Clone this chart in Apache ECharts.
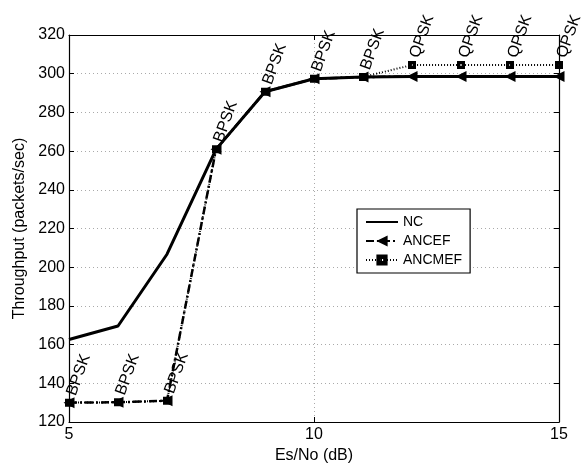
<!DOCTYPE html>
<html><head><meta charset="utf-8">
<script src="https://cdn.jsdelivr.net/npm/echarts@6/dist/echarts.min.js"></script>
<style>html,body{margin:0;padding:0;background:#fff}#c{width:585px;height:469px}</style>
</head><body><div id="c"></div>
<script>
const esno = [5, 6, 7, 8, 9, 10, 11, 12, 13, 14, 15];
const nc = [162.6, 169.6, 206.7, 260.9, 290.7, 297.4, 298.3, 298.5, 298.5, 298.5, 298.5];
const ancef = [130.0, 130.2, 131.0, 260.9, 290.7, 297.4, 298.3, 298.5, 298.5, 298.5, 298.5];
const ancmef = [130.0, 130.2, 131.0, 260.9, 290.7, 297.4, 298.3, 304.5, 304.5, 304.5, 304.5];
const modulation = ['BPSK','BPSK','BPSK','BPSK','BPSK','BPSK','BPSK','QPSK','QPSK','QPSK','QPSK'];
const yTicks = [120, 320, 20];

const font = 'Liberation Sans, Arial, sans-serif';
const pair = a => esno.map((x, i) => [x, a[i]]);
const squareDot = 'path://M0,0H10V10H0Z M4,4V6H6V4Z';
const chart = echarts.init(document.getElementById('c'));
chart.setOption({
  animation: false,
  backgroundColor: '#fff',
  grid: { left: 69, right: 26, top: 35, bottom: 47 },
  legend: {
    orient: 'vertical', left: 357, top: 209,
    backgroundColor: '#fff', borderColor: '#000', borderWidth: 1.2,
    padding: [6, 8, 6, 8], itemGap: 5, itemWidth: 32, itemHeight: 14,
    textStyle: { fontFamily: font, fontSize: 14, color: '#000' },
    data: [{ name: 'NC', itemStyle: { opacity: 0 } }, { name: 'ANCEF' }, { name: 'ANCMEF' }]
  },
  xAxis: [{
    type: 'value', min: 5, max: 15, interval: 5,
    name: 'Es/No (dB)', nameLocation: 'middle', nameGap: 23,
    nameTextStyle: { fontFamily: font, fontSize: 16, color: '#000' },
    axisLine: { lineStyle: { color: '#000', width: 1.2 } },
    axisTick: { inside: true, length: 5, lineStyle: { color: '#000' } },
    axisLabel: { fontFamily: font, fontSize: 16, color: '#000', margin: 5 },
    splitLine: { show: true, lineStyle: { color: '#aaa', type: [1, 3], width: 1 } }
  }, {
    type: 'value', min: 5, max: 15, interval: 5, position: 'top',
    axisLine: { show: true, lineStyle: { color: '#000', width: 1.2 } },
    axisTick: { show: true, inside: true, length: 5, lineStyle: { color: '#000' } },
    axisLabel: { show: false }, splitLine: { show: false }
  }],
  yAxis: [{
    type: 'value', min: yTicks[0], max: yTicks[1], interval: yTicks[2],
    name: 'Throughput (packets/sec)', nameLocation: 'middle', nameGap: 34,
    nameTextStyle: { fontFamily: font, fontSize: 16, color: '#000' },
    axisLine: { show: true, lineStyle: { color: '#000', width: 1.2 } },
    axisTick: { show: true, inside: true, length: 5, lineStyle: { color: '#000' } },
    axisLabel: { fontFamily: font, fontSize: 16, color: '#000', margin: 4 },
    splitLine: { show: true, lineStyle: { color: '#aaa', type: [1, 3], width: 1 } }
  }, {
    type: 'value', min: yTicks[0], max: yTicks[1], interval: yTicks[2], position: 'right',
    axisLine: { show: true, lineStyle: { color: '#000', width: 1.2 } },
    axisTick: { show: true, inside: true, length: 5, lineStyle: { color: '#000' } },
    axisLabel: { show: false }, splitLine: { show: false }
  }],
  series: [{
    name: 'ANCMEF', type: 'line', data: pair(ancmef), z: 1,
    symbol: squareDot, symbolSize: 8,
    itemStyle: { color: '#000' },
    lineStyle: { color: '#000', width: 2, type: [1, 2] },
    label: {
      show: true, position: 'top', distance: 3, rotate: 70,
      align: 'left', verticalAlign: 'bottom', offset: [1.5, 10],
      fontFamily: font, fontSize: 16, color: '#000',
      formatter: p => modulation[p.dataIndex]
    }
  }, {
    name: 'ANCEF', type: 'line', data: pair(ancef), z: 5,
    symbol: 'triangle', symbolSize: 11, symbolRotate: 90,
    itemStyle: { color: '#000' },
    lineStyle: { color: '#000', width: 2.5, type: [8, 3, 2, 3] }
  }, {
    name: 'NC', type: 'line', data: pair(nc), z: 6,
    symbol: 'none',
    itemStyle: { color: '#000' },
    lineStyle: { color: '#000', width: 3 }
  }]
});
</script></body></html>
